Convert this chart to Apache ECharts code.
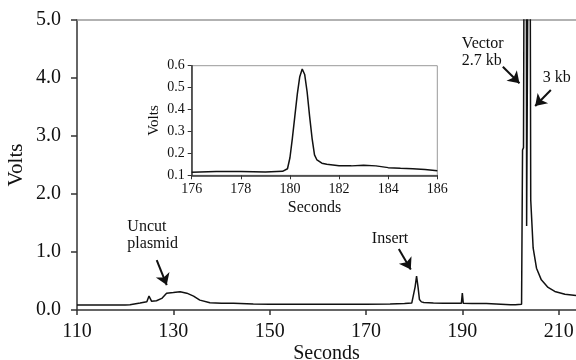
<!DOCTYPE html>
<html>
<head>
<meta charset="utf-8">
<script src="https://cdn.jsdelivr.net/npm/echarts@6/dist/echarts.min.js"></script>
<style>html,body{margin:0;padding:0;background:#fff;}#c{width:576px;height:360px;}</style>
</head>
<body>
<div id="c"></div>
<script>
// Main trace (seconds, volts)
const mainSeconds = [110,115,120,121,121.2,123.1,124.5,124.95,125.5,126.5,127.6,128.6,129,130,131.4,132.8,134.2,135.5,137.6,140,142.5,146.6,150,155,160,165,170,175,178,179.5,179.9,180.2,180.5,180.8,181.1,181.5,182,184,186,189.8,190,190.2,192,195,198,200,201,202.3,202.5,202.7,202.8,203.3,203.35,203.5,203.6,204.1,204.2,204.7,205.4,206.4,207.8,209.2,211.3,213.6];
const mainVolts   = [0.086,0.086,0.088,0.09,0.115,0.12,0.143,0.24,0.15,0.16,0.2,0.29,0.28,0.3,0.316,0.29,0.24,0.17,0.126,0.118,0.115,0.103,0.1,0.1,0.1,0.1,0.1,0.105,0.11,0.12,0.15,0.4,0.586,0.4,0.18,0.14,0.13,0.12,0.115,0.115,0.29,0.115,0.11,0.11,0.1,0.09,0.09,0.1,2.76,2.8,5.6,5.6,1.45,1.45,5.6,5.6,1.9,1.07,0.72,0.52,0.39,0.32,0.27,0.25];
// Inset trace
const insetSeconds = [176,177,178,179,179.7,179.9,180.0,180.1,180.2,180.3,180.4,180.5,180.6,180.7,180.8,180.9,181.0,181.1,181.3,181.5,182,182.5,183,183.5,184,184.5,185,185.5,186];
const insetVolts   = [0.114,0.117,0.117,0.115,0.118,0.13,0.18,0.27,0.37,0.47,0.55,0.585,0.56,0.48,0.37,0.27,0.193,0.17,0.155,0.15,0.144,0.143,0.146,0.143,0.135,0.132,0.13,0.127,0.121];
// Tick settings
const mainXTicks = {min:110, max:213.6, interval:20};
const mainYTicks = {min:0, max:5, interval:1};
const insetXTicks = {min:176, max:186, interval:2};
const insetYTicks = {min:0.1, max:0.6, interval:0.1};
// Annotations
const labels = [
  {text:'Uncut\nplasmid', at:[120.45,1.29], pos:'right'},
  {text:'Insert', at:[175.0,1.22], pos:'inside'},
  {text:'Vector\n2.7 kb', at:[189.9,4.45], pos:'right'},
  {text:'3 kb', at:[209.6,4.01], pos:'inside'}
];
const arrows = [
  [[126.55,0.862],[128.63,0.43]],
  [[176.81,1.05],[179.30,0.70]],
  [[198.41,4.195],[201.86,3.909]],
  [[208.38,3.793],[205.12,3.517]]
];

const serif = "'Liberation Serif','Times New Roman',serif";
const ink = '#111';
const axisCol = '#333';

const mainData = mainSeconds.map((s,i)=>[s, mainVolts[i]]);
const insetData = insetSeconds.map((s,i)=>[s, insetVolts[i]]);

const chart = echarts.init(document.getElementById('c'), null, {renderer:'canvas'});
chart.setOption({
  animation:false,
  backgroundColor:'#fff',
  grid:[
    {left:77, top:20, right:0, bottom:50, outerBoundsMode:'none', containLabel:false},
    {left:191.7, top:65.7, width:245.6, height:109.6, show:true, backgroundColor:'#fff', borderColor:'#999', borderWidth:1, outerBoundsMode:'none', containLabel:false}
  ],
  xAxis:[
    {type:'value', gridIndex:0, min:mainXTicks.min, max:mainXTicks.max, interval:mainXTicks.interval,
     axisLine:{show:true, onZero:false, lineStyle:{color:axisCol, width:1.5}},
     axisTick:{show:true, length:5, lineStyle:{color:axisCol, width:1.5}},
     splitLine:{show:false},
     axisLabel:{fontFamily:serif, fontSize:20, color:ink, margin:12, showMaxLabel:false,
       formatter:v=> (Math.abs((v-110)%20)<1e-6 ? String(v) : '')},
     name:'Seconds', nameLocation:'middle', nameGap:34, nameMoveOverlap:false, nameTextStyle:{fontFamily:serif, fontSize:20, color:ink}},
    {type:'value', gridIndex:0, position:'top', min:mainXTicks.min, max:mainXTicks.max,
     axisLine:{show:true, onZero:false, lineStyle:{color:'#999', width:1.5}}, axisTick:{show:false}, axisLabel:{show:false}, splitLine:{show:false}},
    {type:'value', gridIndex:1, min:insetXTicks.min, max:insetXTicks.max, interval:insetXTicks.interval,
     axisLine:{show:true, onZero:false, lineStyle:{color:axisCol, width:1.5}},
     axisTick:{show:true, length:4, lineStyle:{color:axisCol}},
     splitLine:{show:false},
     axisLabel:{fontFamily:serif, fontSize:14, color:ink, margin:7},
     name:'Seconds', nameLocation:'middle', nameGap:24, nameMoveOverlap:false, nameTextStyle:{fontFamily:serif, fontSize:16, color:ink}}
  ],
  yAxis:[
    {type:'value', gridIndex:0, min:mainYTicks.min, max:mainYTicks.max, interval:mainYTicks.interval,
     axisLine:{show:true, onZero:false, lineStyle:{color:axisCol, width:1.5}},
     axisTick:{show:true, length:6, lineStyle:{color:axisCol, width:1.5}},
     splitLine:{show:false},
     axisLabel:{fontFamily:serif, fontSize:20, color:ink, margin:16, formatter:v=>v.toFixed(1)},
     name:'Volts', nameLocation:'middle', nameGap:50, nameMoveOverlap:false, nameRotate:90, nameTextStyle:{fontFamily:serif, fontSize:21, color:ink}},
    {type:'value', gridIndex:1, min:insetYTicks.min, max:insetYTicks.max, interval:insetYTicks.interval,
     axisLine:{show:true, onZero:false, lineStyle:{color:axisCol, width:1.5}},
     axisTick:{show:true, length:4, lineStyle:{color:axisCol}},
     splitLine:{show:false},
     axisLabel:{fontFamily:serif, fontSize:14, color:ink, margin:7, formatter:v=>v.toFixed(1)},
     name:'Volts', nameLocation:'middle', nameGap:30, nameMoveOverlap:false, nameRotate:90, nameTextStyle:{fontFamily:serif, fontSize:15, color:ink}}
  ],
  series:[
    {type:'line', xAxisIndex:0, yAxisIndex:0, data:mainData, showSymbol:false, symbol:'none', clip:true,
     lineStyle:{color:ink, width:1.5}, silent:true,
     markLine:{silent:true, symbol:['none','arrow'], symbolSize:11,
       lineStyle:{color:ink, width:2, type:'solid'}, itemStyle:{color:ink}, label:{show:false},
       data: arrows.map(a=>[{coord:a[0]},{coord:a[1]}])},
     markPoint:{silent:true, symbol:'circle', symbolSize:0,
       data: labels.map(l=>({coord:l.at, value:0,
         label:{show:true, position:l.pos, distance:0, formatter:l.text, fontFamily:serif, fontSize:16, lineHeight:17, color:ink, align: l.pos==='right'?'left':'center'}}))}
    },
    {type:'line', xAxisIndex:2, yAxisIndex:1, data:insetData, showSymbol:false, symbol:'none', clip:true,
     lineStyle:{color:ink, width:1.5}, silent:true, z:5}
  ]
});
</script>
</body>
</html>
